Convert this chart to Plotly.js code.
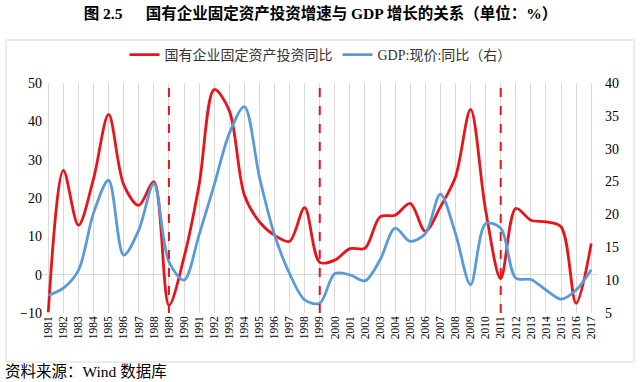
<!DOCTYPE html>
<html><head><meta charset="utf-8">
<script src="https://cdn.plot.ly/plotly-3.0.1.min.js"></script>
<style>html,body{margin:0;padding:0;background:#fff;}#chart{width:640px;height:382px;}</style>
</head><body><div id="chart"></div>
<script>
const years = [1981,1982,1983,1984,1985,1986,1987,1988,1989,1990,1991,1992,1993,1994,1995,1996,1997,1998,1999,2000,2001,2002,2003,2004,2005,2006,2007,2008,2009,2010,2011,2012,2013,2014,2015,2016,2017];
const soeInvest = [-9.8,27.2,12.9,25.0,41.8,23.5,18.1,24.2,-8.0,4.5,23.4,48.3,42.8,20.8,13.8,10.3,8.7,17.5,3.2,3.8,6.8,6.9,15.1,15.5,18.6,11.3,17.7,25.5,43.1,16.8,-1.0,17.3,14.2,13.8,12.5,-7.5,8.1];
const gdpNominal = [7.7,8.8,11.5,20.2,25.2,13.8,17.6,24.7,12.8,10.0,16.9,24.5,32.3,36.4,25.7,16.9,11.0,7.0,6.5,11.0,10.8,9.9,13.1,17.9,15.9,17.1,23.1,17.1,9.3,18.6,17.9,10.3,10.1,8.5,7.1,8.5,11.6];
const turningYears = [1989,1999,2011];
const seriesNames = ['国有企业固定资产投资同比','GDP:现价:同比（右）'];
const leftTicks = [-10,0,10,20,30,40,50];
const rightTicks = [5,10,15,20,25,30,35,40];

const FONT = 'Liberation Serif, Noto Sans CJK SC, serif';

const traces = [
  {x: years, y: soeInvest, name: seriesNames[0], type:'scatter', mode:'lines',
   line:{color:'#e8141c', width:2.8, shape:'spline', smoothing:0.9}},
  {x: years, y: gdpNominal, name: seriesNames[1], type:'scatter', mode:'lines', yaxis:'y2',
   line:{color:'#5b9bd5', width:2.8, shape:'spline', smoothing:0.9}}
];

const shapes = turningYears.map(yr => ({
  type:'line', xref:'x', yref:'y', x0:yr, x1:yr, y0:-10, y1:50,
  line:{color:'#e8141c', width:2, dash:'dash'}, layer:'above'
}));
shapes.push({type:'rect', xref:'paper', yref:'paper', x0:-0.0667, x1:1.065, y0:-0.213, y1:1.187,
  line:{color:'#d9d9d9', width:1}, fillcolor:'rgba(0,0,0,0)', layer:'below'});

const layout = {
  width:640, height:382,
  margin:{l:43, r:42, t:83, b:69},
  paper_bgcolor:'#fff', plot_bgcolor:'#fff',
  font:{family:FONT, color:'#000', size:13},
  title:{text:'图 2.5\u00a0\u00a0\u00a0\u00a0\u00a0\u00a0国有企业固定资产投资增速与 GDP 增长的关系（单位：%）',
    x:0.5, xref:'paper', xanchor:'center', y:0.965, yanchor:'middle',
    font:{family:FONT, size:15.5, color:'#000', weight:'bold'}},
  showlegend:true,
  legend:{orientation:'h', x:0.5, xanchor:'center', y:1.122, yanchor:'middle',
    font:{family:FONT, size:14, color:'#333'}, bgcolor:'rgba(0,0,0,0)', tracegroupgap:0},
  xaxis:{range:[1980.65,2017.45], tickmode:'array', tickvals:years, ticktext:years.map(String),
    tickangle:-90, tickfont:{family:FONT, size:11.5, color:'#000'},
    showgrid:true, gridcolor:'#d9d9d9', gridwidth:1, zeroline:false, showline:false, ticks:'', fixedrange:true},
  yaxis:{range:[-10,50], tickmode:'array', tickvals:leftTicks, showgrid:false,
    zeroline:true, zerolinecolor:'#d9d9d9', zerolinewidth:1, showline:false, ticks:'',
    tickfont:{family:FONT, size:14, color:'#000'}},
  yaxis2:{range:[5,40], overlaying:'y', side:'right', tickmode:'array', tickvals:rightTicks,
    showgrid:false, zeroline:false, showline:false, ticks:'', ticklabelstandoff:6,
    tickfont:{family:FONT, size:14, color:'#000'}},
  shapes: shapes,
  annotations:[{text:'资料来源：Wind 数据库', xref:'paper', yref:'paper', x:-0.072, y:-0.2565,
    xanchor:'left', yanchor:'middle', showarrow:false, font:{family:FONT, size:15.5, color:'#000'}}]
};

Plotly.newPlot('chart', traces, layout, {displayModeBar:false, staticPlot:true});
</script></body></html>
